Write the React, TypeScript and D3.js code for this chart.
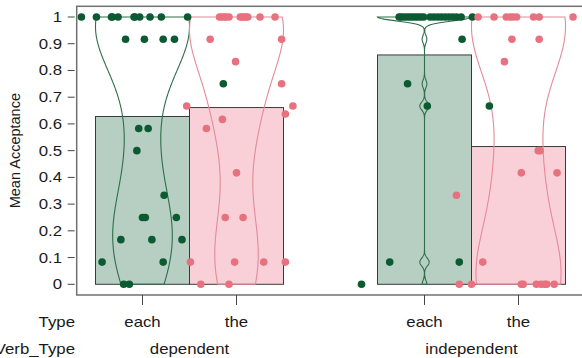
import React, { useEffect, useRef } from 'react';
import * as d3 from 'd3';

const typeLabels = ['each', 'the', 'each', 'the'];
const verbTypes = ['dependent', 'independent'];
const groupPos = [1, 2, 4, 5];
const yTicks = [0, 0.1, 0.2, 0.3, 0.4, 0.5, 0.6, 0.7, 0.8, 0.9, 1];

// dependent / each
const depEachValues = [
  1, 1, 1, 1, 1, 1, 1, 1, 1, 1, 1,
  0.917, 0.917, 0.917, 0.917, 0.75, 0.583, 0.583, 0.5, 0.333,
  0.25, 0.25, 0.25, 0.167, 0.167, 0.167, 0.083, 0.083, 0, 0,
];
const depEachJitter = [
  -0.65, -0.49, -0.33, -0.32, -0.26, -0.09, -0.08, -0.03, 0.08, 0.2, 0.48,
  -0.18, 0.02, 0.22, 0.34, 0.86, -0.04, 0.06, -0.06, 0.23,
  0.0, 0.03, 0.36, -0.23, 0.1, 0.42, -0.43, 0.22, -0.2, -0.14,
];

// dependent / the
const depTheValues = [
  1, 1, 1, 1, 1, 1, 1, 1, 1, 1, 1, 1,
  0.917, 0.917, 0.833, 0.75, 0.667, 0.667, 0.637, 0.617, 0.583, 0.417,
  0.25, 0.25, 0.083, 0.083, 0.083, 0.083, 0, 0,
];
const depTheJitter = [
  -0.18, -0.16, -0.13, -0.11, -0.08, 0.04, 0.06, 0.08, 0.1, 0.12, 0.25, 0.41,
  -0.28, 0.48, -0.01, 0.48, -0.53, 0.6, 0.52, -0.15, -0.32, 0.0,
  -0.12, 0.07, -0.49, -0.02, 0.29, 0.52, -0.38, -0.08,
];

// independent / each
const indEachValues = [
  1, 1, 1, 1, 1, 1, 1, 1, 1, 1, 1, 1, 1, 1, 1, 1, 1, 1, 1, 1,
  0.917, 0.75, 0.667, 0.667, 0.083, 0.083, 0,
];
const indEachJitter = [
  -0.27, -0.25, -0.22, -0.19, -0.16, -0.13, -0.1, -0.07, -0.04, -0.01,
  0.06, 0.1, 0.14, 0.18, 0.22, 0.26, 0.3, 0.34, 0.39, 0.51,
  0.4, -0.18, 0.03, 0.69, -0.37, 0.37, -0.67,
];

// independent / the
const indTheValues = [
  1, 1, 1, 1, 1, 1, 1, 1, 1,
  0.917, 0.917, 0.833, 0.5, 0.5, 0.417, 0.417, 0.333, 0.083,
  0, 0, 0, 0, 0, 0, 0, 0, 0,
];
const indTheJitter = [
  -0.43, -0.26, -0.13, -0.09, -0.06, -0.02, 0.16, 0.22, 0.58,
  -0.07, 0.22, -0.15, 0.21, 0.23, 0.03, 0.41, -0.66, -0.38,
  -0.63, -0.5, 0.03, 0.05, 0.19, 0.24, 0.28, 0.3, 0.38,
];

const groupValues = [depEachValues, depTheValues, indEachValues, indTheValues];
const groupJitter = [depEachJitter, depTheJitter, indEachJitter, indTheJitter];

const green = { point: '#0b5a32', fill: '#b6cfc2', line: '#2f6e4a' };
const pink = { point: '#e8717f', fill: '#f9d0d8', line: '#e48a9a' };
const groupColors = [green, pink, green, pink];

const FONT = '"Liberation Sans", Arial, sans-serif';

// R's bw.nrd0
const bwNrd0 = (x: number[]) => {
  const s = [...x].sort(d3.ascending);
  const hi = d3.deviation(s) || 0;
  const iqr = (d3.quantileSorted(s, 0.75) || 0) - (d3.quantileSorted(s, 0.25) || 0);
  let lo = Math.min(hi, iqr / 1.34);
  if (!lo) lo = hi || Math.abs(s[0]) || 1;
  return 0.9 * lo * Math.pow(s.length, -0.2);
};

const beanProfile = (vals: number[]) => {
  const bw = bwNrd0(vals);
  const [lo, hi] = d3.extent(vals) as [number, number];
  const grid = d3.range(512).map((i) => lo + ((hi - lo) * i) / 511);
  const dens = grid.map((g) => ({
    v: g,
    d: d3.sum(vals, (v) => Math.exp(-((g - v) ** 2) / (2 * bw * bw))),
  }));
  const max = d3.max(dens, (d) => d.d) || 1;
  return dens.map((d) => ({ v: d.v, w: d.d / max }));
};

export default function App() {
  const ref = useRef<SVGSVGElement>(null);

  useEffect(() => {
    const svg = d3.select(ref.current);
    svg.selectAll('*').remove();

    const x = d3.scaleLinear().domain([0, 1]).range([48.5, 142.5]);
    const y = d3.scaleLinear().domain([0, 1]).range([284.3, 17]);
    const unit = x(1) - x(0);

    // text in the reference is a little stretched sideways
    const addText = (tx: number, ty: number, str: string, anchor: string) =>
      svg
        .append('text')
        .attr('transform', `translate(${tx},${ty}) scale(1.2,1)`)
        .attr('text-anchor', anchor)
        .attr('font-family', FONT)
        .attr('font-size', 14)
        .attr('fill', '#1a1a1a')
        .text(str);

    // bars
    groupPos.forEach((p, i) => {
      const m = d3.mean(groupValues[i]) || 0;
      svg
        .append('rect')
        .attr('x', x(p - 0.5))
        .attr('y', y(m))
        .attr('width', unit)
        .attr('height', y(0) - y(m))
        .attr('fill', groupColors[i].fill)
        .attr('stroke', '#3a3a3a')
        .attr('stroke-width', 1);
    });

    // beans
    groupPos.forEach((p, i) => {
      const prof = beanProfile(groupValues[i]);
      const area = d3
        .area<{ v: number; w: number }>()
        .y((d) => y(d.v))
        .x0((d) => x(p - 0.5 * d.w))
        .x1((d) => x(p + 0.5 * d.w));
      svg
        .append('path')
        .datum(prof)
        .attr('d', area)
        .attr('fill', 'none')
        .attr('stroke', groupColors[i].line)
        .attr('stroke-width', 1.1);
    });

    // points
    groupPos.forEach((p, i) => {
      svg
        .append('g')
        .selectAll('circle')
        .data(groupValues[i])
        .join('circle')
        .attr('cx', (_, j) => x(p + groupJitter[i][j]))
        .attr('cy', (d) => y(d))
        .attr('r', 3.8)
        .attr('fill', groupColors[i].point);
    });

    // plot box
    svg
      .append('rect')
      .attr('x', x(0.3))
      .attr('y', y(1.04))
      .attr('width', x(5.7) - x(0.3))
      .attr('height', y(-0.04) - y(1.04))
      .attr('fill', 'none')
      .attr('stroke', '#707070')
      .attr('stroke-width', 1.5);

    // y axis ticks + labels
    yTicks.forEach((t) => {
      svg
        .append('line')
        .attr('x1', x(0.3) - 9)
        .attr('x2', x(0.3) - 2)
        .attr('y1', y(t))
        .attr('y2', y(t))
        .attr('stroke', '#444')
        .attr('stroke-width', 1);
      addText(62, y(t) + 5, String(t), 'end');
    });

    svg
      .append('text')
      .attr('transform', `translate(20,${y(0.5)}) rotate(-90)`)
      .attr('text-anchor', 'middle')
      .attr('font-family', FONT)
      .attr('font-size', 14.5)
      .attr('fill', '#1a1a1a')
      .text('Mean Acceptance');

    // x ticks + labels
    groupPos.forEach((p, i) => {
      svg
        .append('line')
        .attr('x1', x(p))
        .attr('x2', x(p))
        .attr('y1', y(-0.04))
        .attr('y2', y(-0.04) + 10)
        .attr('stroke', '#444')
        .attr('stroke-width', 1);
      addText(x(p), 327, typeLabels[i], 'middle');
    });
    verbTypes.forEach((v, k) => {
      addText(x((groupPos[2 * k] + groupPos[2 * k + 1]) / 2), 354, v, 'middle');
    });
    addText(75, 327, 'Type', 'end');
    addText(75, 354, 'Verb_Type', 'end');
  }, []);

  return (
    <svg
      ref={ref}
      width={582}
      height={358}
      style={{ position: 'absolute', left: 0, top: 0, background: '#fff' }}
    />
  );
}
